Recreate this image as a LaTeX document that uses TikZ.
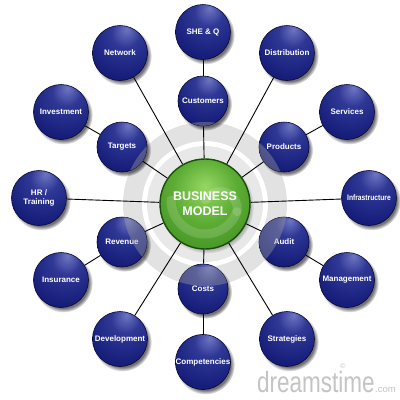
\documentclass[tikz,border=0pt]{standalone}
\usepackage{fontspec}
\setmainfont{Liberation Sans}
\usetikzlibrary{shadows,fadings}
\definecolor{bhl}{RGB}{110,118,195}
\definecolor{bmidA}{RGB}{48,56,150}
\definecolor{bmid}{RGB}{22,30,122}
\definecolor{bdark}{RGB}{12,16,86}
\definecolor{bedge}{RGB}{6,8,48}
\definecolor{ghl}{RGB}{150,215,100}
\definecolor{gmid}{RGB}{92,172,52}
\definecolor{gdark}{RGB}{50,128,24}
\definecolor{gedge}{RGB}{24,78,10}
\definecolor{ringgray}{RGB}{226,226,226}
\definecolor{ringgrayb}{RGB}{232,232,232}
\definecolor{wmgray}{RGB}{196,196,196}
\pgfdeclareradialshading{bluesph}{\pgfpoint{6bp}{22bp}}{color(0bp)=(bhl); color(13bp)=(bmidA); color(34bp)=(bmid); color(58bp)=(bdark); color(76bp)=(bedge)}
\pgfdeclareradialshading{greensph}{\pgfpoint{0bp}{10bp}}{color(0bp)=(ghl); color(18bp)=(gmid); color(45bp)=(gdark); color(64bp)=(gedge)}
\pgfdeclarelayer{ring}
\pgfdeclarelayer{lines}
\pgfsetlayers{ring,lines,main}
\tikzset{
  ball/.style={circle, shade, shading=bluesph, draw=bedge, line width=0.6pt,
    text=white, font=\fontsize{8}{9}\selectfont\bfseries, align=center, inner sep=0pt,
    circular drop shadow={shadow xshift=2.2pt, shadow yshift=-2.8pt, shadow scale=1.07, fill=black, opacity=.55}},
  bigball/.style={ball, minimum size=55pt},
  smallball/.style={ball, minimum size=50pt},
  gball/.style={circle, shade, shading=greensph, draw=gedge, line width=1.4pt, minimum size=90pt,
    text=white, font=\fontsize{12.5}{15}\selectfont\bfseries, align=center, inner sep=0pt,
    circular drop shadow={shadow xshift=2pt, shadow yshift=-2.5pt, shadow scale=1.04, fill=black, opacity=.4}},
  conn/.style={line width=0.9pt, black},
  swirl/.style={line width=9pt, white, opacity=.15, line cap=round},
  wm/.style={text=wmgray, inner sep=0pt},
}
\begin{document}
\begin{tikzpicture}[x=1pt,y=-1pt]
\useasboundingbox (0,0) rectangle (400,400);
% centre
\node[gball] (c) at (205,204) {};
\draw[swirl] (c.center) ++(-34,-4) arc[start angle=180, end angle=20, radius=34];
\draw[swirl] (c.center) ++(32,7.6) arc[start angle=10, end angle=-150, radius=17];
\node[text=white, font=\fontsize{12.5}{15}\selectfont\bfseries, align=center] (ct) at (c.center) {BUSINESS\\MODEL};
% balls
\node[bigball] (sheq) at (203,32) {SHE \& Q};
\node[bigball] (net) at (120,53) {Network};
\node[bigball] (dist) at (287,53) {Distribution};
\node[smallball] (cust) at (203,101) {Customers};
\node[bigball] (inv) at (61,112) {Investment};
\node[bigball] (serv) at (347,112) {Services};
\node[smallball] (targ) at (122,147) {Targets};
\node[smallball] (prod) at (284,147) {Products};
\node[bigball] (hr) at (39,198) {HR /\\Training};
\node[bigball] (infra) at (369,198) {\scalebox{0.84}[1]{Infrastructure}};
\node[smallball] (rev) at (122,242) {Revenue};
\node[smallball] (aud) at (284,242) {Audit};
\node[bigball] (ins) at (61,280) {Insurance};
\node[bigball] (man) at (347,280) {Management};
\node[smallball] (cost) at (203,289) {Costs};
\node[bigball] (dev) at (120,339) {Development};
\node[bigball] (strat) at (287,339) {Strategies};
\node[bigball] (comp) at (203,362) {Competencies};
% translucent ring over inner balls
\foreach \b/\r in {targ/25pt, prod/25pt, rev/25pt, aud/25pt, cust/25pt, cost/25pt}{
  \begin{scope}
    \clip (\b.center) circle (\r);
    \fill[gray!75, opacity=.4, even odd rule] (c.center) circle (82pt) (c.center) circle (63pt);
  \end{scope}
}
\begin{pgfonlayer}{ring}
  \fill[white] (0,0) rectangle (400,400);
  \fill[ringgray, even odd rule] (c.center) circle (82pt) (c.center) circle (63pt);
  \fill[ringgrayb, even odd rule] (c.center) circle (58pt) (c.center) circle (45pt);
\end{pgfonlayer}
\begin{pgfonlayer}{lines}
  \foreach \n in {cust, net, dist, targ, prod, hr, infra, rev, aud, cost, dev, strat}
    \draw[conn] (c) -- (\n);
  \draw[conn] (cust) -- (sheq);
  \draw[conn] (targ) -- (inv);
  \draw[conn] (prod) -- (serv);
  \draw[conn] (rev) -- (ins);
  \draw[conn] (aud) -- (man);
  \draw[conn] (cost) -- (comp);
\end{pgfonlayer}
% watermark
\node[wm, anchor=base west, font=\fontsize{22.5}{24}\selectfont] (wm1) at (257,392) {\scalebox{1}[1.3]{dreamstime}};
\node[wm, anchor=base west, font=\fontsize{9.5}{10}\selectfont] (wm2) at (wm1.base east) {.com};
\node[wm, font=\fontsize{7}{8}\selectfont] (wm3) at (343,366) {©};
\end{tikzpicture}
\end{document}
